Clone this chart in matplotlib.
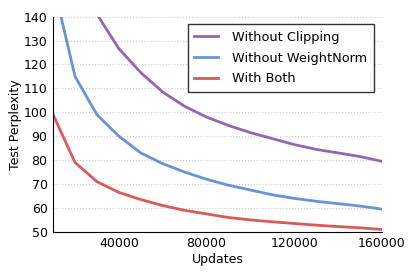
import matplotlib
matplotlib.use('agg')
import matplotlib.pyplot as plt

updates = [10000, 20000, 30000, 40000, 50000, 60000, 70000, 80000,
           90000, 100000, 110000, 120000, 130000, 140000, 150000, 160000]
no_clip = [200, 165, 141, 126.6, 116.6, 108.5, 102.5, 98, 94.5, 91.5,
           89, 86.5, 84.5, 83, 81.5, 79.5]
no_wnorm = [154, 115, 99, 90, 83, 78.5, 75, 72, 69.5, 67.5, 65.5, 64,
            62.8, 61.8, 60.8, 59.5]
both = [99, 79, 71, 66.5, 63.5, 61, 59, 57.5, 56, 55, 54.2, 53.5, 52.8,
        52.2, 51.7, 51]

fig, ax = plt.subplots(figsize=(4.15, 2.77), dpi=100)
fig.subplots_adjust(left=0.128, right=0.92, top=0.94, bottom=0.163)

ax.plot(updates, no_clip, color='#9366b4', lw=2, label='Without Clipping')
ax.plot(updates, no_wnorm, color='#6a93d6', lw=2, label='Without WeightNorm')
ax.plot(updates, both, color='#d85a5a', lw=2, label='With Both')

ax.set_xlim(10000, 160000)
ax.set_ylim(50, 140)
ax.set_xticks([40000, 80000, 120000, 160000])
ax.set_yticks(range(50, 141, 10))
ax.tick_params(length=0, labelsize=9, pad=4)
ax.yaxis.grid(True, linestyle=':', color='#cccccc', lw=0.8)
ax.set_axisbelow(True)
for s in ['top', 'right']:
    ax.spines[s].set_visible(False)
ax.set_xlabel('Updates', fontsize=9, labelpad=2)
ax.set_ylabel('Test Perplexity', fontsize=9, labelpad=1)

leg = ax.legend(loc='upper right', fontsize=9.3, fancybox=False,
                edgecolor='#333333', framealpha=1, borderaxespad=0.6,
                borderpad=0.5, handlelength=1.85, handletextpad=1.1,
                labelspacing=0.6)

plt.savefig('out.png')
plt.close()
